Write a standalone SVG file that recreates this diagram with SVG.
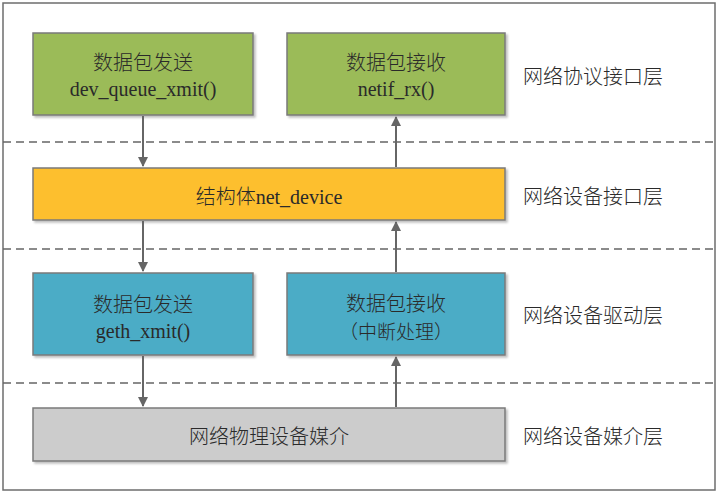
<svg xmlns="http://www.w3.org/2000/svg" width="720" height="494" viewBox="0 0 720 494">
<defs>
<marker id="ah" markerWidth="10" markerHeight="10" refX="9" refY="5" orient="auto" markerUnits="userSpaceOnUse">
<path d="M0,0 L10,5 L0,10 Z" fill="#666"/>
</marker>
<filter id="sh" x="-5%" y="-5%" width="115%" height="120%">
<feDropShadow dx="2" dy="2" stdDeviation="1.2" flood-color="#000" flood-opacity="0.25"/>
</filter>
</defs>
<style>
.box{stroke:#7a7a7a;stroke-width:1.5;filter:url(#sh)}
.t{font-family:"Noto Sans CJK SC",sans-serif;font-size:20px;font-weight:300;fill:#2a2a2a;text-anchor:middle}
.l{font-family:"Noto Sans CJK SC",sans-serif;font-size:20px;font-weight:300;fill:#2a2a2a}
.r{font-family:"Liberation Serif",serif;font-size:20px;font-weight:400}
.dash{stroke:#666;stroke-width:1.5;stroke-dasharray:8,5;fill:none}
.arr{stroke:#666;stroke-width:2;fill:none;marker-end:url(#ah)}
</style>
<rect width="720" height="494" fill="#fff"/>
<rect x="3" y="3" width="712" height="487" fill="#fff" stroke="#6d6d6d" stroke-width="1.5"/>
<g id="dividers">
<line class="dash" x1="3" y1="142" x2="715" y2="142"/>
<line class="dash" x1="3" y1="249" x2="715" y2="249"/>
<line class="dash" x1="3" y1="383" x2="715" y2="383"/>
</g>
<g id="send-proto">
<rect class="box" x="33" y="33" width="220" height="82" fill="#9BBB59"/>
<text class="t" x="143" y="70">数据包发送</text>
<text class="t r" x="143" y="96">dev_queue_xmit()</text>
</g>
<g id="recv-proto">
<rect class="box" x="287" y="33" width="218" height="82" fill="#9BBB59"/>
<text class="t" x="396" y="70">数据包接收</text>
<text class="t r" x="396" y="96">netif_rx()</text>
</g>
<g id="net-device">
<rect class="box" x="33" y="168" width="472" height="52" fill="#FDBF2D"/>
<text class="t" x="269" y="204">结构体<tspan class="r">net_device</tspan></text>
</g>
<g id="send-driver">
<rect class="box" x="33" y="273" width="220" height="82" fill="#4BACC6"/>
<text class="t" x="143" y="312">数据包发送</text>
<text class="t r" x="143" y="338">geth_xmit()</text>
</g>
<g id="recv-driver">
<rect class="box" x="287" y="273" width="218" height="82" fill="#4BACC6"/>
<text class="t" x="396" y="311">数据包接收</text>
<text class="t" x="396" y="339" style="font-size:19px">（中断处理）</text>
</g>
<g id="medium">
<rect class="box" x="33" y="408" width="472" height="53" fill="#CCCCCC"/>
<text class="t" x="269" y="444">网络物理设备媒介</text>
</g>
<g id="labels">
<text class="l" x="523" y="84">网络协议接口层</text>
<text class="l" x="523" y="204">网络设备接口层</text>
<text class="l" x="523" y="323">网络设备驱动层</text>
<text class="l" x="523" y="444">网络设备媒介层</text>
</g>
<g id="connectors">
<line class="arr" x1="143" y1="116" x2="143" y2="166"/>
<line class="arr" x1="143" y1="221" x2="143" y2="271"/>
<line class="arr" x1="143" y1="356" x2="143" y2="406"/>
<line class="arr" x1="396" y1="407" x2="396" y2="357"/>
<line class="arr" x1="396" y1="272" x2="396" y2="222"/>
<line class="arr" x1="396" y1="167" x2="396" y2="117"/>
</g>
</svg>
